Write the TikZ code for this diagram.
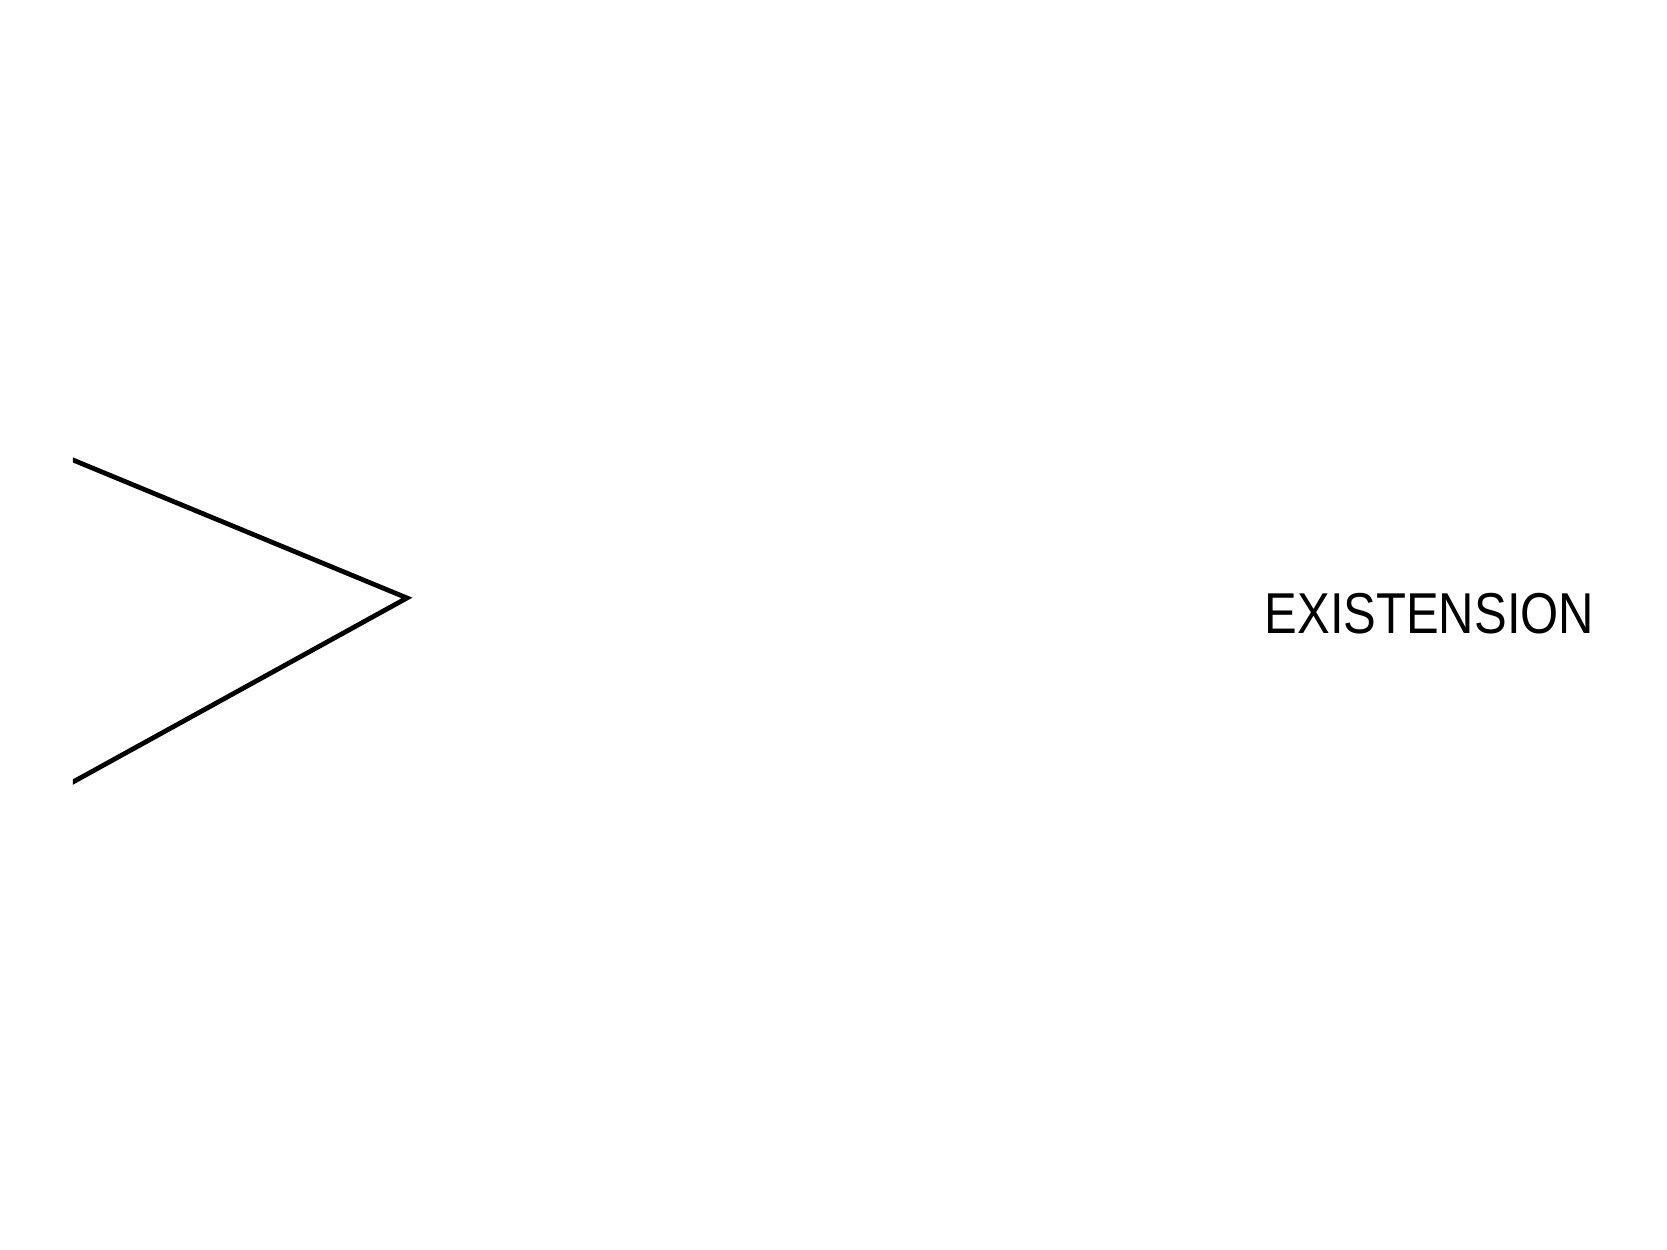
\documentclass[tikz,border=0pt]{standalone}
\usepackage{fontspec}
\setmainfont{Liberation Sans}
\newfontfamily\narrowfont[FakeStretch=0.85]{Liberation Sans}
\usetikzlibrary{calc}
\begin{document}
\begin{tikzpicture}[x=1cm,y=1cm,
  chevron/.style={line width=1.35pt, black},
  label/.style={inner sep=0pt, anchor=base west, font=\narrowfont\fontsize{16.4pt}{19pt}\selectfont}]
\useasboundingbox (0,0) rectangle (16.67,12.5);
\coordinate (top) at (0.73,7.90);
\coordinate (tip) at (4.07,6.52);
\coordinate (bot) at (0.73,4.68);
\begin{scope}
\clip (0.73,0) rectangle (16.67,12.5);
\draw[chevron] ($(top)!-0.02!(tip)$) -- (tip) -- ($(bot)!-0.02!(tip)$);
\end{scope}
\node[label] (ext) at (12.64,6.16) {EXISTENSION};
\end{tikzpicture}
\end{document}
